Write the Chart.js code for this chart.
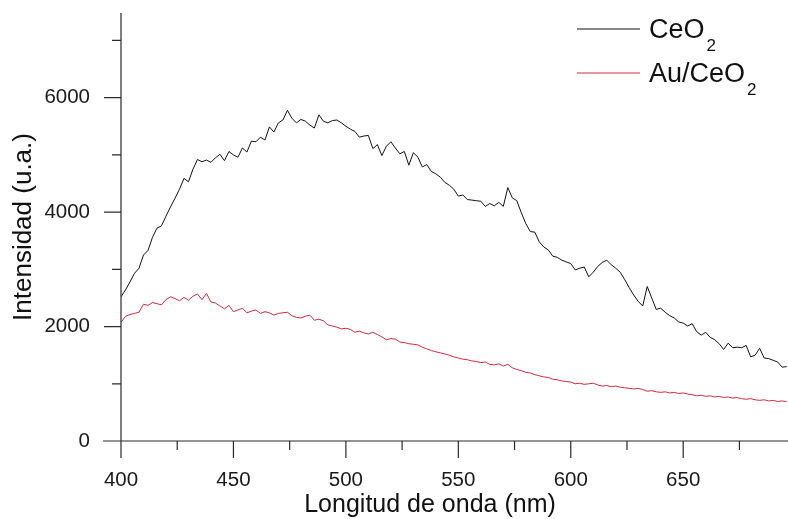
<!DOCTYPE html>
<html>
<head>
<meta charset="utf-8">
<script src="https://cdn.jsdelivr.net/npm/chart.js@4.4.1/dist/chart.umd.min.js"></script>
<style>
html,body{margin:0;padding:0;background:#fff;}
#wrap{width:788px;height:519px;}
</style>
</head>
<body>
<div id="wrap"><canvas id="c" width="788" height="519"></canvas></div>
<script>
// ---- data ----
const wavelengths = [400,402,404,406,408,410,412,414,416,418,420,422,424,426,428,430,432,434,436,438,440,442,444,446,448,450,452,454,456,458,460,462,464,466,468,470,472,474,476,478,480,482,484,486,488,490,492,494,496,498,500,502,504,506,508,510,512,514,516,518,520,522,524,526,528,530,532,534,536,538,540,542,544,546,548,550,552,554,556,558,560,562,564,566,568,570,572,574,576,578,580,582,584,586,588,590,592,594,596,598,600,602,604,606,608,610,612,614,616,618,620,622,624,626,628,630,632,634,636,638,640,642,644,646,648,650,652,654,656,658,660,662,664,666,668,670,672,674,676,678,680,682,684,686,688,690,692,694,696];

const ceo2 = [2520,2640,2780,2930,3020,3250,3330,3560,3720,3760,3930,4090,4240,4400,4590,4530,4750,4920,4880,4910,4870,4950,5010,4900,5060,5000,4960,5120,5050,5240,5230,5310,5260,5490,5400,5560,5610,5780,5640,5560,5620,5590,5520,5470,5700,5590,5560,5600,5610,5560,5500,5450,5410,5310,5330,5340,5110,5180,4990,5150,5230,5120,5020,5060,4820,5040,4960,4790,4830,4710,4670,4610,4520,4470,4400,4280,4300,4220,4210,4200,4190,4100,4150,4110,4170,4100,4430,4250,4200,3990,3800,3660,3650,3480,3390,3340,3230,3210,3160,3130,3100,2990,3020,3040,2870,2950,3050,3120,3160,3080,3020,2950,2820,2680,2550,2440,2360,2700,2500,2300,2320,2250,2190,2150,2080,2060,2010,2050,1910,1850,1900,1810,1770,1700,1600,1710,1630,1640,1630,1670,1470,1500,1620,1450,1440,1410,1380,1290,1300];

const auCeo2 = [2070,2180,2210,2230,2250,2390,2370,2420,2400,2380,2470,2520,2490,2450,2510,2460,2530,2570,2470,2580,2430,2410,2360,2310,2370,2260,2290,2320,2240,2270,2290,2230,2260,2240,2200,2230,2240,2250,2190,2160,2150,2180,2200,2110,2130,2100,2030,2010,1990,1960,1970,1950,1900,1920,1890,1870,1900,1860,1820,1770,1790,1780,1730,1720,1700,1690,1680,1640,1610,1580,1560,1540,1520,1500,1470,1450,1430,1420,1400,1390,1370,1380,1340,1330,1350,1310,1340,1280,1250,1230,1200,1190,1160,1140,1120,1110,1080,1070,1050,1040,1030,1000,1010,990,1000,1010,980,960,970,950,960,940,930,920,910,920,900,870,880,860,850,860,840,850,830,840,820,810,790,800,780,790,770,780,760,770,750,760,740,730,740,720,710,720,700,710,690,700,690];

const xTickValues = [400,450,500,550,600,650];
const xMinorTicks = [425,475,525,575,625,675];
const yTickValues = [0,2000,4000,6000];
const yMinorTicks = [1000,3000,5000,7000];
const seriesNames = ['CeO', 'Au/CeO'];
const seriesSub = '2';
const xTitle = 'Longitud de onda (nm)';
const yTitle = 'Intensidad (u.a.)';

const FONT = '"Liberation Sans", Arial, sans-serif';
const COLORS = ['#111111', '#d02a3e'];

const toXY = arr => arr.map((v, i) => ({x: wavelengths[i], y: v}));

const axisPlugin = {
  id: 'originAxes',
  afterDraw(chart) {
    const ctx = chart.ctx;
    const xs = chart.scales.x, ys = chart.scales.y;
    const x0 = xs.getPixelForValue(400);
    const y0 = ys.getPixelForValue(0);
    ctx.save();
    ctx.strokeStyle = '#2a2a2a';
    ctx.lineWidth = 1.2;
    ctx.beginPath();
    ctx.moveTo(x0 - 18, y0); ctx.lineTo(chart.width, y0);
    ctx.moveTo(x0, chart.chartArea.top); ctx.lineTo(x0, y0 + 17);
    xTickValues.forEach(v => { const p = xs.getPixelForValue(v); ctx.moveTo(p, y0); ctx.lineTo(p, y0 + 17); });
    xMinorTicks.forEach(v => { const p = xs.getPixelForValue(v); ctx.moveTo(p, y0); ctx.lineTo(p, y0 + 9); });
    yTickValues.forEach(v => { const p = ys.getPixelForValue(v); ctx.moveTo(x0 - 17, p); ctx.lineTo(x0, p); });
    yMinorTicks.forEach(v => { const p = ys.getPixelForValue(v); ctx.moveTo(x0 - 9, p); ctx.lineTo(x0, p); });
    ctx.stroke();

    ctx.fillStyle = '#111';
    ctx.font = '25px ' + FONT;
    ctx.textAlign = 'center';
    ctx.textBaseline = 'middle';
    ctx.fillText(xTitle, 430, 505);

    const items = [{y: 29, base: 38}, {y: 73, base: 82}];
    items.forEach((it, i) => {
      ctx.strokeStyle = COLORS[i];
      ctx.lineWidth = 1;
      ctx.beginPath();
      ctx.moveTo(577, it.y); ctx.lineTo(640, it.y);
      ctx.stroke();
      ctx.fillStyle = '#111';
      ctx.textAlign = 'left';
      ctx.textBaseline = 'alphabetic';
      ctx.font = '27px ' + FONT;
      ctx.fillText(seriesNames[i], 649, it.base);
      const w = ctx.measureText(seriesNames[i]).width;
      ctx.font = '17px ' + FONT;
      ctx.fillText(seriesSub, 649 + w + 2, it.base + 13);
    });
    ctx.restore();
  }
};

new Chart(document.getElementById('c'), {
  type: 'line',
  data: {
    datasets: [
      {label: 'CeO2', data: toXY(ceo2), borderColor: COLORS[0], borderWidth: 1, pointRadius: 0, tension: 0, fill: false},
      {label: 'Au/CeO2', data: toXY(auCeo2), borderColor: COLORS[1], borderWidth: 1, pointRadius: 0, tension: 0, fill: false}
    ]
  },
  options: {
    responsive: false,
    animation: false,
    events: [],
    layout: {padding: {top: 13, right: 0, left: 0, bottom: 0}},
    plugins: {legend: {display: false}, tooltip: {enabled: false}},
    scales: {
      x: {
        type: 'linear', min: 400, max: 696.6,
        afterBuildTicks: s => { s.ticks = xTickValues.map(v => ({value: v})); },
        afterFit: s => { s.height = 78; s.paddingLeft = 0; s.paddingRight = 0; },
        grid: {display: true, drawOnChartArea: false, drawTicks: true, tickLength: 17, color: 'rgba(0,0,0,0)'},
        border: {display: false},
        ticks: {font: {size: 20.5, family: FONT}, color: '#1a1a1a', padding: 10.5, maxRotation: 0, autoSkip: false, callback: v => String(v)}
      },
      y: {
        type: 'linear', min: 0, max: 7480,
        afterBuildTicks: s => { s.ticks = yTickValues.map(v => ({value: v})); },
        afterFit: s => { s.width = 121; s.paddingTop = 0; s.paddingBottom = 0; },
        grid: {display: true, drawOnChartArea: false, drawTicks: true, tickLength: 17, color: 'rgba(0,0,0,0)'},
        border: {display: false},
        ticks: {font: {size: 20.5, family: FONT}, color: '#1a1a1a', padding: 14, callback: v => String(v)},
        title: {display: true, text: yTitle, font: {size: 26, family: FONT}, color: '#111', padding: {top: 8, bottom: 0}}
      }
    }
  },
  plugins: [axisPlugin]
});
</script>
</body>
</html>
